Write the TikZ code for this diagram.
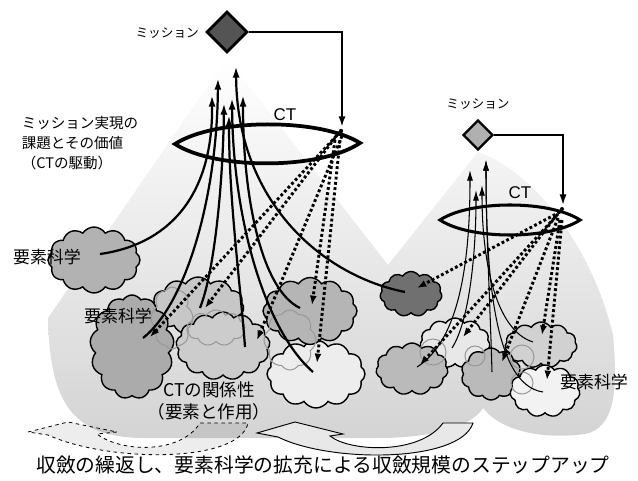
\documentclass[tikz,border=0pt]{standalone}
\usepackage{fontspec}
\setmainfont{Noto Sans CJK JP}
\newfontfamily\latinfont{Liberation Sans}
\usetikzlibrary{arrows.meta,shapes.geometric,shapes.symbols}

\tikzset{
  % text sizes
  txtS/.style={font=\fontsize{10.8}{12}\selectfont},
  txtN/.style={font=\fontsize{12.4}{17}\selectfont},
  txtM/.style={font=\fontsize{14.5}{17.5}\selectfont},
  txtL/.style={font=\fontsize{15}{18}\selectfont},
  txtB/.style={font=\fontsize{16.9}{19}\selectfont},
  % clouds, sizes in pixels
  sz/.style 2 args={minimum width={#1*0.03cm}, minimum height={#2*0.03cm}},
  blob/.style={cloud, cloud puffs=#1, cloud puff arc=115, cloud ignores aspect,
    draw, line width=1.2pt, inner sep=0pt},
  blob/.default=11,
  ghost/.style={cloud, cloud puffs=#1, cloud puff arc=115, cloud ignores aspect,
    draw=black!40, line width=0.9pt, inner sep=0pt},
  ghost/.default=7,
  ring/.style={circle, draw=black!40, line width=0.9pt, inner sep=0pt, minimum size={#1*0.03cm}},
  % mission diamonds and feed lines
  mission/.style={diamond, draw, line width=2.4pt, inner sep=0pt, minimum size={#1*0.03cm}},
  feed/.style={line width=#1, -{Latex[length=9pt,width=6pt]}},
  lens/.style={line width=#1},
  % arrows
  rise/.style={line width=1.9pt, -{Latex[length=10pt,width=6pt]}},
  thinrise/.style={line width=0.9pt, -{Latex[length=9pt,width=5pt]}},
  drop/.style={line width=2.5pt, dash pattern=on 2.4pt off 2.1pt, -{Latex[length=8pt,width=6pt]}},
}

\begin{document}
\begin{tikzpicture}[x=0.03cm, y=-0.03cm]

  \useasboundingbox (0,0) rectangle (638,481);

  % Cones below the two missions
  \shade[top color=white, bottom color=black!17]
    (227,58) -- (388,265) -- (478,152)
    .. controls (530,170) and (590,240) .. (613,335)
    .. controls (618,390) and (615,428) .. (585,434)
    .. controls (540,440) and (500,430) .. (483,408)
    .. controls (470,430) and (420,438) .. (380,438)
    -- (140,438) .. controls (70,436) and (50,400) .. (48,318) -- cycle;

  % Step arrows
  \draw[dashed, line width=0.7pt, fill=black, fill opacity=0.07]
    (28,432) -- (68,422) -- (117,432) -- (97,434)
    .. controls (120,452) and (180,455) .. (200,423) -- (248,423)
    .. controls (240,463) and (110,463) .. (48,435) -- cycle;
  \draw[line width=0.8pt, fill=black!9]
    (257,433) -- (295,422) -- (343,434) -- (330,436)
    .. controls (350,452) and (420,455) .. (443,423) -- (473,423)
    .. controls (460,463) and (330,463) .. (278,437) -- cycle;

  % Clouds, left
  \node[blob=12, fill=black!30, sz={92}{66}] (c1) at (94,260) {};
  \node[blob=11, fill=black!22, sz={92}{58}] (c3) at (198,306) {};
  \node[blob=12, fill=black!7, sz={98}{68}] (c6) at (316,374) {};
  \node[blob=12, fill=black!29, sz={94}{67}] (c5) at (310,311) {};
  \node[blob=13, fill=black!20, sz={94}{68}] (c4) at (223,346) {};
  \node[blob=13, fill=black!33, sz={84}{104}] (c2) at (132,347) {};
  \node[ghost=8, sz={42}{62}] (g1) at (172,318) {};
  \node[ghost=8, sz={52}{60}] (g2) at (290,340) {};
  \node[ghost=9, sz={58}{36}] (g3) at (216,328) {};

  % Clouds, right
  \node[blob=11, fill=black!56, sz={62}{45}] (d0) at (411,294) {};
  \node[blob=11, fill=black!9, sz={70}{50}] (d2) at (455,343) {};
  \node[blob=11, fill=black!18, sz={72}{46}] (d4) at (541,345) {};
  \node[blob=11, fill=black!27, sz={72}{52}] (d1) at (412,369) {};
  \node[blob=10, fill=black!27, sz={60}{52}] (d3) at (491,374) {};
  \node[blob=11, fill=black!5, sz={70}{52}] (d5) at (545,391) {};
  \node[ring=26] (r1) at (433,352) {};
  \node[ring=20] (r2) at (475,356) {};
  \node[ring=24] (r3) at (522,357) {};
  \node[ring=22] (r4) at (522,383) {};

  % Missions
  \node[mission=41, fill=black!67] (mis1) at (227,32) {};
  \node[mission=30, fill=black!31, line width=2pt] (mis2) at (478,135) {};
  \node[txtS, anchor=east] (mis1txt) at (203,33) {ミッション};
  \node[txtS] (mis2txt) at (478,104) {ミッション};

  % CT lenses
  \coordinate (ct1in) at (342,127);
  \coordinate (ct2in) at (563,205);
  \draw[lens=3.2pt] (175,144) .. controls (215,118) and (320,118) .. (360,143)
    .. controls (320,170) and (215,170) .. (175,144) -- cycle;
  \draw[lens=2.6pt] (440,220) .. controls (470,200) and (550,200) .. (580,220)
    .. controls (550,240) and (470,240) .. (440,220) -- cycle;
  \node[txtM] (ct1txt) at (285,115) {\latinfont CT};
  \node[txtM] (ct2txt) at (520,193) {\latinfont CT};

  \draw[feed=2pt] (mis1.east) -| (ct1in);
  \draw[feed=1.5pt] (mis2.east) -| (ct2in);
  \fill (341,131) circle (2.2);
  \fill (562,209) circle (2);

  % Rising arrows, left
  \coordinate (t1) at (212,95);
  \coordinate (t2) at (218,78);
  \coordinate (t3) at (224,103);
  \coordinate (t4) at (229,115);
  \coordinate (t5) at (243,95);
  \coordinate (t6) at (232,98);
  \coordinate (t7) at (236,66);
  \draw[rise] (100,254) .. controls (165,245) and (213,200) .. (t1);
  \draw[rise] (143,338) .. controls (185,305) and (217,200) .. (t2);
  \draw[rise] (200,308) .. controls (215,270) and (223,180) .. (t3);
  \draw[rise] (245,347) .. controls (240,280) and (229,200) .. (t4);
  \draw[rise] (300,308) .. controls (262,290) and (243,200) .. (t5);
  \draw[rise] (313,372) .. controls (265,330) and (233,220) .. (t6);
  \draw[rise] (405,292) .. controls (320,275) and (237,200) .. (t7);

  % Falling arrows, left
  \draw[drop] (340,132) -- (150,337);
  \draw[drop] (338,134) -- (205,308);
  \draw[drop] (342,136) -- (257,340);
  \draw[drop] (335,140) -- (312,305);
  \draw[drop] (340,140) -- (317,363);

  % Rising arrows, right
  \coordinate (u1) at (470,170);
  \coordinate (u2) at (476,190);
  \coordinate (u3) at (486,160);
  \coordinate (u4) at (482,185);
  \draw[thinrise] (417,367) .. controls (460,340) and (470,260) .. (u1);
  \draw[thinrise] (452,348) .. controls (470,320) and (476,250) .. (u2);
  \draw[thinrise] (492,372) .. controls (490,300) and (486,230) .. (u3);
  \draw[thinrise] (533,342) .. controls (495,330) and (482,260) .. (u4);
  \draw[thinrise] (543,392) .. controls (495,385) and (486,280) .. (u3);

  % Falling arrows, right
  \draw[drop] (560,212) -- (417,288);
  \draw[drop] (558,214) -- (420,365);
  \draw[drop] (556,216) -- (463,337);
  \draw[drop] (558,218) -- (502,362);
  \draw[drop] (560,220) -- (542,335);
  \draw[drop] (562,220) -- (547,380);

  % Labels
  \node[txtN, align=left] (goal) at (80,143) {ミッション実現の\\課題とその価値\\（CTの駆動）};
  \node[txtM] (sci1) at (47,257) {要素科学};
  \node[txtM] (sci2) at (118,316) {要素科学};
  \node[txtM] (sci3) at (594,382) {要素科学};
  \node[txtL, align=center] (rel) at (209,401) {CTの関係性\\（要素と作用）};
  \node[txtB] (step) at (323,465) {収斂の繰返し、要素科学の拡充による収斂規模のステップアップ};

\end{tikzpicture}
\end{document}
